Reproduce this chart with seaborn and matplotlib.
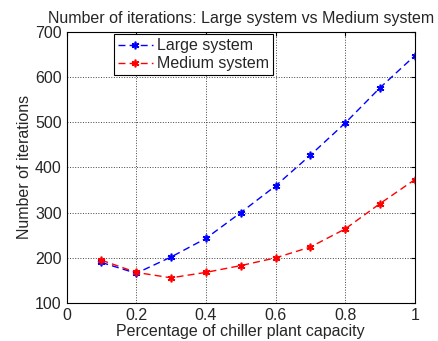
import matplotlib
matplotlib.use("Agg")
import matplotlib.pyplot as plt
import seaborn as sns
import pandas as pd

capacity = [0.1, 0.2, 0.3, 0.4, 0.5, 0.6, 0.7, 0.8, 0.9, 1.0]
large_iters = [190, 166, 202, 243, 300, 359, 427, 498, 576, 647]
medium_iters = [195, 168, 156, 168, 183, 200, 224, 264, 320, 373]
series_names = ["Large system", "Medium system"]
colors = {"Large system": "#0000ff", "Medium system": "#ff0000"}

df = pd.concat([
    pd.DataFrame({"capacity": capacity, "iters": large_iters, "system": series_names[0]}),
    pd.DataFrame({"capacity": capacity, "iters": medium_iters, "system": series_names[1]}),
])

sns.set_style("white")
plt.rcParams["font.family"] = ["Liberation Sans", "DejaVu Sans"]
fs = 11.5
asterisk = (6, 2, 0)

fig = plt.figure(figsize=(4.38, 3.41), dpi=100)
ax = fig.add_axes([0.152, 0.111, 0.795, 0.796])

sns.lineplot(data=df, x="capacity", y="iters", hue="system", style="system",
             palette=colors,
             dashes={"Large system": (5, 3), "Medium system": (5, 3)},
             markers={"Large system": asterisk, "Medium system": asterisk},
             markersize=5.5, linewidth=1.0, ax=ax)

# marker edges in the same colour as their line
for line in ax.get_lines():
    c = line.get_color()
    line.set_markeredgecolor(c)
    line.set_markerfacecolor(c)
    line.set_markeredgewidth(1.2)

ax.set_xlim(0, 1)
ax.set_ylim(100, 700)
ax.set_xticks([0, 0.2, 0.4, 0.6, 0.8, 1])
ax.set_xticklabels(["0", "0.2", "0.4", "0.6", "0.8", "1"])
ax.set_yticks(range(100, 701, 100))
ax.tick_params(labelsize=fs, direction="in", length=3, color="black",
               top=True, right=True, pad=3.5)
for s in ax.spines.values():
    s.set_color("black")
    s.set_linewidth(0.8)
ax.grid(True, linestyle=":", color="#444444", linewidth=0.7)

ax.set_xlabel("Percentage of chiller plant capacity", fontsize=fs, labelpad=1)
ax.set_ylabel("Number of iterations", fontsize=fs, labelpad=2)
ax.set_title("Number of iterations: Large system vs Medium system", fontsize=fs, pad=6)

leg = ax.legend(loc="upper left", bbox_to_anchor=(0.128, 1.0), fontsize=fs,
                frameon=True, fancybox=False, edgecolor="black", framealpha=1,
                borderpad=0.25, handlelength=2.2, labelspacing=0.2, handletextpad=0.3,
                borderaxespad=0.15)
leg.get_frame().set_linewidth(0.8)
for h in leg.get_lines():
    c = h.get_color()
    h.set_markeredgecolor(c)
    h.set_markerfacecolor(c)
    h.set_markeredgewidth(1.2)

fig.savefig("out.png", dpi=100)
